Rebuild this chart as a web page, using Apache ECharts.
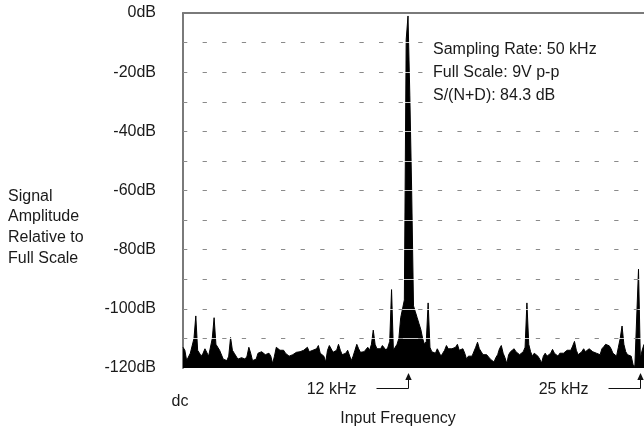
<!DOCTYPE html>
<html>
<head>
<meta charset="utf-8">
<script src="https://cdn.jsdelivr.net/npm/echarts@6/dist/echarts.min.js"></script>
<style>
html,body{margin:0;padding:0;background:#fff;}
#chart{width:644px;height:430px;}
</style>
</head>
<body>
<div id="chart"></div>
<script>
// FFT bin spacing (kHz) and levels (dB re full scale), dc .. ~25.2 kHz
const binWidthKHz = 0.1;
const levels = [
  -113,-114,-117.5,-117,-115,-115,-110,-102.4,-114,-114,
  -116,-115,-113.5,-113.5,-116,-116,-110,-103,-112,-112.5,
  -114,-114,-117,-117.5,-117.5,-116,-109.7,-114,-115,-115.5,
  -117,-117,-116.5,-117,-117,-116,-113,-115,-117.5,-117.5,
  -117,-115,-115.5,-114.5,-115,-115.5,-115,-115,-116,-118.5,
  -116,-113,-113.5,-114,-114.5,-114,-115,-114.5,-116,-116,
  -115.5,-116,-114.7,-115,-114.5,-114.7,-114,-114.5,-113,-114.5,
  -115,-114,-114.5,-113.5,-112.4,-115,-115.5,-116,-118,-114,
  -112.4,-113,-114.7,-114.5,-114,-112,-114,-115.5,-115.5,-115,
  -114,-114.5,-117.5,-116,-114,-112,-113.5,-114.7,-115,-114.5,
  -114,-113,-114,-112,-107.2,-112,-113.5,-114,-113.5,-112.4,
  -113,-114,-113,-111,-93.5,-114,-114.5,-112,-110,-103,
  -100,-97,-9,-1,-28,-60,-99,-101,-103,-105,
  -107,-110,-112,-111,-98,-113,-114.5,-114.5,-115,-113.5,
  -114,-116,-115,-114,-112.4,-113.5,-114,-113.5,-114,-113,
  -112,-114,-114.5,-113.5,-115,-117,-116,-115.5,-116,-115.5,
  -113,-111.3,-113.5,-114.5,-115.5,-116,-115.5,-116,-117,-117.5,
  -118,-116.5,-115.5,-113.5,-112.4,-115,-116.5,-118.5,-115.5,-114.5,
  -114,-113.5,-114.5,-115,-115.5,-115,-114.5,-113,-98,-112,
  -114.5,-116,-115,-114.5,-116,-117,-118.3,-116,-115,-116,
  -116.5,-115,-113.7,-115,-115.5,-116,-115,-114.5,-115,-115.5,
  -114,-113.5,-114,-112.6,-111,-114,-115.5,-116,-114.5,-113.5,
  -114.5,-114,-113.5,-113.5,-114.5,-114,-115,-115.5,-115.5,-113.5,
  -112.8,-112,-111.5,-112.5,-113.5,-115,-115.5,-116,-113,-110,
  -105.8,-112,-114.5,-115.5,-115.5,-116,-118.8,-119.5,-120,-86.6,
  -116.6,-114,-112
];
// axis
const yMin = -120, yMax = 0, yStep = 10;
const yLabelLevels = [0, -20, -40, -60, -80, -100, -120];
const gridLevels = [-10, -20, -30, -40, -50, -60, -70, -80, -90, -100, -110];
const xMaxKHz = 25.2;
// annotations
const freqMarks = [
  { label: '12 kHz', kHz: 12.3 },
  { label: '25 kHz', kHz: 25 }
];
const yTitle = ['Signal', 'Amplitude', 'Relative to', 'Full Scale'];
const infoLines = ['Sampling Rate: 50 kHz', 'Full Scale: 9V p-p', 'S/(N+D): 84.3 dB'];
const xTitle = 'Input Frequency';
const dcLabel = 'dc';

const FONT = '"Liberation Sans", Arial, Helvetica, sans-serif';
const TXT = '#1a1a1a';

const seriesData = levels.map((v, i) => [+(i * binWidthKHz).toFixed(2), v]);

const markData = [];
gridLevels.forEach(v => markData.push({
  yAxis: v,
  lineStyle: { color: 'rgba(255,255,255,0.78)', width: 1, type: 'solid' }
}));
gridLevels.forEach(v => markData.push({
  yAxis: v,
  lineStyle: { color: '#8a8a8a', width: 1, type: [4.3, 15.3], dashOffset: 0 }
}));

const chart = echarts.init(document.getElementById('chart'), null, { renderer: 'canvas' });
chart.setOption({
  animation: false,
  backgroundColor: '#fff',
  grid: { left: 183, top: 13, right: 0, bottom: 62, containLabel: false },
  xAxis: [
    {
      type: 'value', min: 0, max: xMaxKHz,
      axisLine: { show: true, lineStyle: { color: '#222', width: 1 } },
      axisTick: { show: false }, axisLabel: { show: false }, splitLine: { show: false }
    },
    {
      type: 'value', min: 0, max: xMaxKHz, position: 'top',
      axisLine: { show: true, onZero: false, lineStyle: { color: '#7a7a7a', width: 2 } },
      axisTick: { show: false }, axisLabel: { show: false }, splitLine: { show: false }
    }
  ],
  yAxis: {
    type: 'value', min: yMin, max: yMax, interval: yStep,
    axisLine: { show: true, onZero: false, lineStyle: { color: '#7a7a7a', width: 2 } },
    axisTick: { show: false },
    splitLine: { show: false },
    axisLabel: {
      show: true, margin: 27, fontSize: 16, color: TXT, fontFamily: FONT,
      padding: [5, 0, 0, 0],
      formatter: v => (yLabelLevels.indexOf(v) >= 0 ? v + 'dB' : '')
    }
  },
  series: [{
    type: 'line',
    xAxisIndex: 0,
    data: seriesData,
    symbol: 'none',
    lineStyle: { color: '#000', width: 1 },
    areaStyle: { color: '#000', opacity: 1, origin: 'start' },
    markLine: {
      silent: true, symbol: ['none', 'none'], label: { show: false },
      animation: false, data: markData
    }
  }]
});

function px(kHz, db) { return chart.convertToPixel({ gridIndex: 0 }, [kHz, db]); }

const g = [];
const bottomY = px(0, yMin)[1];
const lineY = bottomY + 20;
const tipY = bottomY + 5;
const headBase = bottomY + 12;
freqMarks.forEach(m => {
  const ax = Math.round(px(m.kHz, yMin)[0]) + 0.5;
  g.push({ type: 'polyline', z: 100, shape: { points: [[ax - 32, lineY + 0.5], [ax, lineY + 0.5], [ax, headBase]] },
    style: { stroke: '#111', lineWidth: 1, fill: null } });
  g.push({ type: 'polygon', z: 100, shape: { points: [[ax, tipY], [ax - 3.2, headBase], [ax + 3.2, headBase]] },
    style: { fill: '#111' } });
  g.push({ type: 'text', z: 101, x: ax - 52, y: lineY + 2, style: { text: m.label, font: '16px ' + FONT, fill: TXT,
    align: 'right', verticalAlign: 'middle' } });
});
const dcX = px(0, yMin)[0];
g.push({ type: 'text', z: 101, x: dcX - 3, y: 402, style: { text: dcLabel, font: '16px ' + FONT, fill: TXT,
  align: 'center', verticalAlign: 'middle' } });
g.push({ type: 'text', z: 101, x: 398, y: 419, style: { text: xTitle, font: '16px ' + FONT, fill: TXT,
  align: 'center', verticalAlign: 'middle' } });
g.push({ type: 'text', z: 101, x: 8, y: 186, style: { text: yTitle.join('\n'), font: '16px ' + FONT, fill: TXT,
  align: 'left', verticalAlign: 'top', lineHeight: 20.7 } });
// white panel behind the info text (hides the grid lines there)
g.push({ type: 'rect', z: 100, shape: { x: 426, y: 37, width: 218, height: 71 }, style: { fill: '#fff' } });
const infoY = [50, 73, 96];
infoLines.forEach((t, i) => g.push({ type: 'text', z: 101, x: 433, y: infoY[i],
  style: { text: t, font: '16px ' + FONT, fill: TXT, align: 'left', verticalAlign: 'middle' } }));

chart.setOption({ graphic: { elements: g } });
</script>
</body>
</html>
